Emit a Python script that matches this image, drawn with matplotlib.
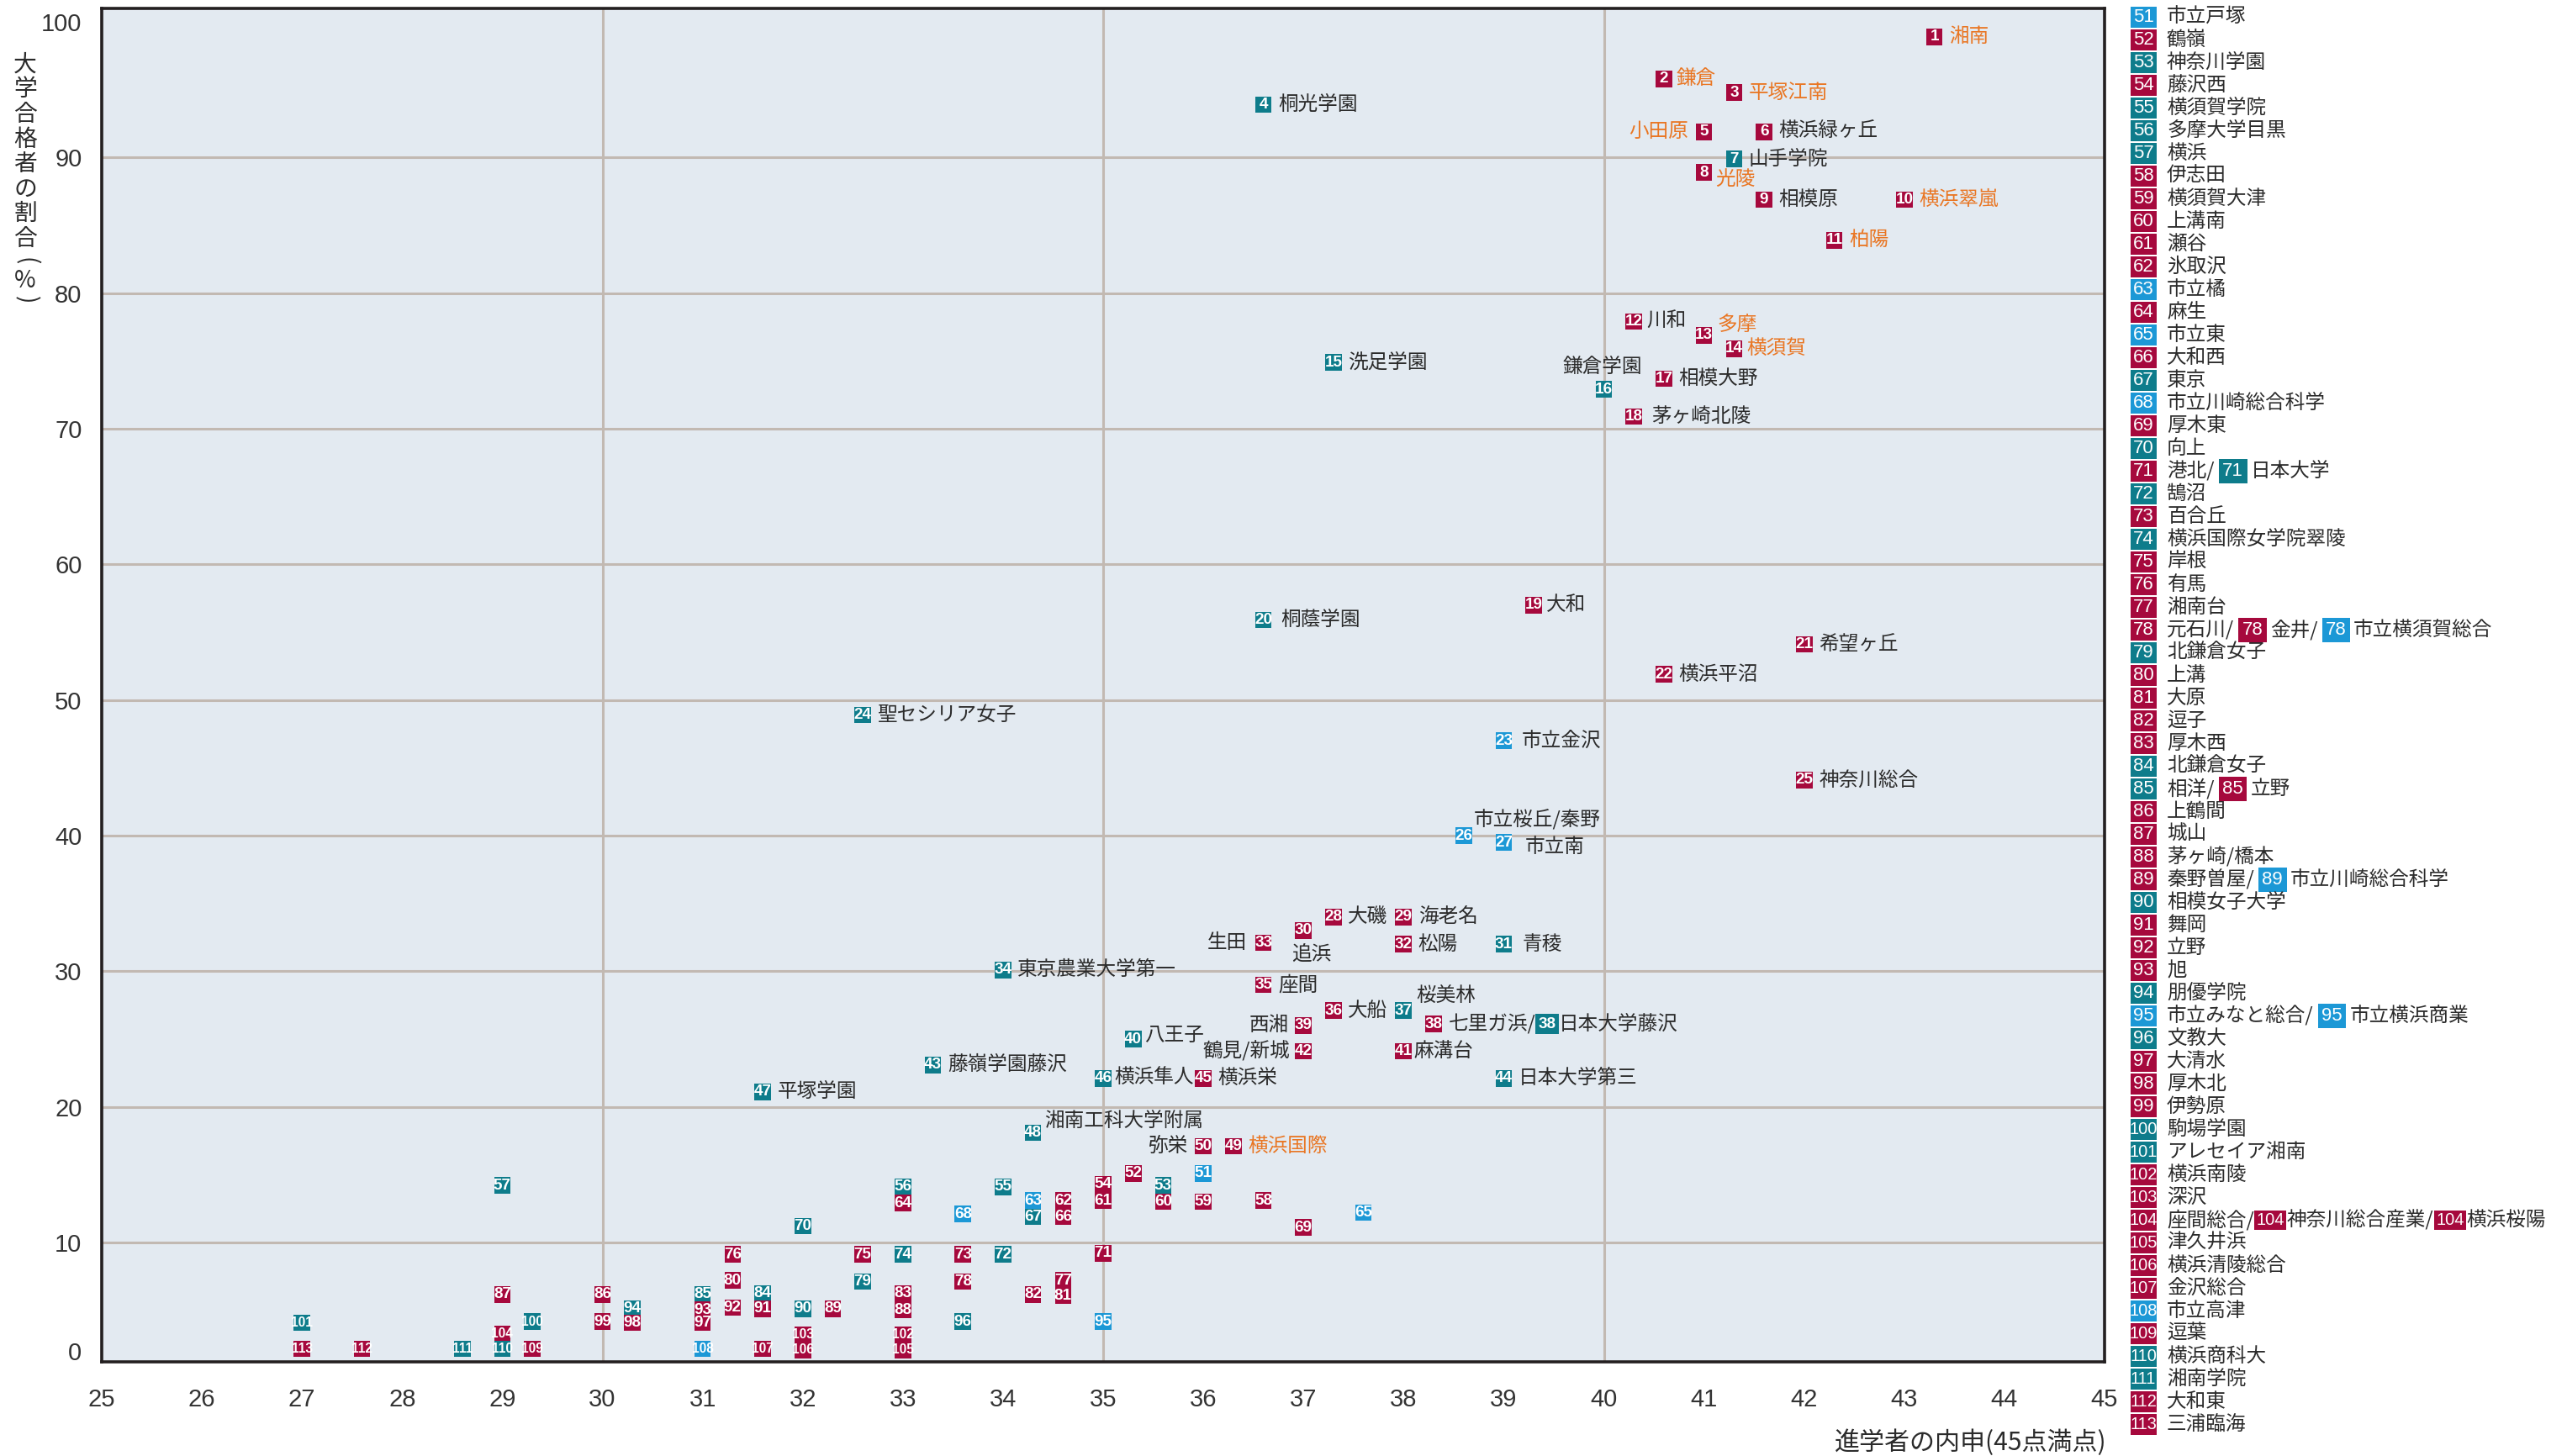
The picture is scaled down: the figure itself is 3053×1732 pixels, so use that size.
import numpy as np
import matplotlib
matplotlib.use("Agg")
import matplotlib.pyplot as plt
from matplotlib.patches import Rectangle

W, H, DPI = 3053, 1732, 200

# --- data: school number, 内申 (x), 大学合格者の割合 % (y), type k=県立 s=私立 i=市立
school_no = list(range(1, 114))
naishin = [43.3, 40.6, 41.3, 36.6, 41.0, 41.6, 41.3, 41.0, 41.6, 43.0,
           42.3, 40.3, 41.0, 41.3, 37.3, 40.0, 40.6, 40.3, 39.3, 36.6,
           42.0, 40.6, 39.0, 32.6, 42.0, 38.6, 39.0, 37.3, 38.0, 37.0,
           39.0, 38.0, 36.6, 34.0, 36.6, 37.3, 38.0, 38.3, 37.0, 35.3,
           38.0, 37.0, 33.3, 39.0, 36.0, 35.0, 31.6, 34.3, 36.3, 36.0,
           36.0, 35.3, 35.6, 35.0, 34.0, 33.0, 29.0, 36.6, 36.0, 35.6,
           35.0, 34.6, 34.3, 33.0, 37.6, 34.6, 34.3, 33.6, 37.0, 32.0,
           35.0, 34.0, 33.6, 33.0, 32.6, 31.3, 34.6, 33.6, 32.6, 31.3,
           34.6, 34.3, 33.0, 31.6, 31.0, 30.0, 29.0, 33.0, 32.3, 32.0,
           31.6, 31.3, 31.0, 30.3, 35.0, 33.6, 31.0, 30.3, 30.0, 29.3,
           27.0, 33.0, 32.0, 29.0, 33.0, 32.0, 31.6, 31.0, 29.3, 29.0,
           28.6, 27.6, 27.0]
goukaku = [98.9, 95.8, 94.8, 93.9, 91.9, 91.9, 89.9, 88.9, 86.9, 86.9,
           83.9, 77.9, 76.9, 75.9, 74.9, 72.9, 73.7, 70.9, 57.0, 55.9,
           54.1, 51.9, 47.0, 48.9, 44.1, 40.0, 39.5, 34.0, 34.0, 33.0,
           32.0, 32.0, 32.1, 30.1, 29.0, 27.1, 27.1, 26.1, 26.0, 25.0,
           24.1, 24.1, 23.1, 22.1, 22.1, 22.1, 21.1, 18.1, 17.1, 17.1,
           15.1, 15.1, 14.2, 14.3, 14.1, 14.1, 14.2, 13.1, 13.0, 13.0,
           13.1, 13.1, 13.1, 12.9, 12.2, 11.9, 11.9, 12.1, 11.1, 11.2,
           9.0, 8.9, 8.9, 8.9, 8.9, 8.9, 6.5, 6.4, 6.4, 6.5,
           5.1, 5.2, 5.3, 5.3, 5.2, 5.2, 5.2, 3.8, 3.9, 3.9,
           3.9, 4.0, 3.8, 3.9, 2.7, 2.7, 2.6, 2.6, 2.7, 2.7,
           2.6, 1.5, 1.5, 1.6, 0.1, 0.1, 0.2, 0.2, 0.2, 0.2,
           0.2, 0.2, 0.2]
kind = ("kkkskkskkk" "kkkksskkks" "kkiskiikkk" "skkskkskks" "kksskssskk"
        "ikskssskkk" "kkikiksiks" "kskskkkksk" "kkksskkkks" "kkksiskkks"
        "skkkkkkiksskk")

# names written next to points 1-50
label_names = ["湘南", "鎌倉", "平塚江南", "桐光学園", "小田原", "横浜緑ヶ丘", "山手学院", "光陵", "相模原", "横浜翠嵐",
               "柏陽", "川和", "多摩", "横須賀", "洗足学園", "鎌倉学園", "相模大野", "茅ヶ崎北陵", "大和", "桐蔭学園",
               "希望ヶ丘", "横浜平沼", "市立金沢", "聖セシリア女子", "神奈川総合", "市立桜丘/秦野", "市立南", "大磯", "海老名", "追浜",
               "青稜", "松陽", "生田", "東京農業大学第一", "座間", "大船", "桜美林", "七里ガ浜/", "西湘", "八王子",
               "麻溝台", "鶴見/新城", "藤嶺学園藤沢", "日本大学第三", "横浜栄", "横浜隼人", "平塚学園", "湘南工科大学附属", "横浜国際", "弥栄"]
orange_names = {1, 2, 3, 5, 8, 10, 11, 13, 14, 49}
inline_extra = {38: ("s", "日本大学藤沢")}

# list on the right for 51-113
legend_names = ["市立戸塚", "鶴嶺", "神奈川学園", "藤沢西", "横須賀学院", "多摩大学目黒", "横浜", "伊志田", "横須賀大津", "上溝南",
                "瀬谷", "氷取沢", "市立橘", "麻生", "市立東", "大和西", "東京", "市立川崎総合科学", "厚木東", "向上",
                "港北/", "鵠沼", "百合丘", "横浜国際女学院翠陵", "岸根", "有馬", "湘南台", "元石川/", "北鎌倉女子", "上溝",
                "大原", "逗子", "厚木西", "北鎌倉女子", "相洋/", "上鶴間", "城山", "茅ヶ崎/橋本", "秦野曽屋/", "相模女子大学",
                "舞岡", "立野", "旭", "朋優学院", "市立みなと総合/", "文教大", "大清水", "厚木北", "伊勢原", "駒場学園",
                "アレセイア湘南", "横浜南陵", "深沢", "座間総合/", "津久井浜", "横浜清陵総合", "金沢総合", "市立高津", "逗葉", "横浜商科大",
                "湘南学院", "大和東", "三浦臨海"]
legend_extra = {71: [("s", "日本大学")],
                78: [("k", "金井/"), ("i", "市立横須賀総合")],
                85: [("k", "立野")],
                89: [("i", "市立川崎総合科学")],
                95: [("i", "市立横浜商業")],
                104: [("k", "神奈川総合産業/"), ("k", "横浜桜陽")]}

# --- style
COL = {"k": "#A6093D", "s": "#0E7C8B", "i": "#1C98D6"}
ORANGE = "#E97623"
DARK = "#2B2B2B"
CJK = ["Noto Sans CJK JP", "DejaVu Sans"]
NUM = ["Liberation Sans Narrow", "Liberation Sans", "DejaVu Sans"]
SANS = ["Liberation Sans", "DejaVu Sans"]

# label offsets in points (dx, dy, ha); default is right of the box
label_pos = {5: (-6.6, 0, "right"), 8: (4.8, -2.9, "left"), 13: (5.6, 4.5, "left"),
             16: (-0.7, 9.6, "center"), 26: (4.3, 6.6, "left"), 27: (9.1, -1.8, "left"),
             30: (3.4, -10.2, "center"), 33: (-7.2, 0, "right"), 37: (5.3, 6.1, "left"),
             39: (-6.4, 0, "right"), 40: (4.8, 1.8, "left"), 41: (4.5, 0, "left"),
             42: (-5.8, 0, "right"), 46: (4.8, 0, "left"), 48: (5.0, 5.0, "left"),
             50: (-6.6, 0, "right"), 31: (8.0, 0, "left"), 18: (7.4, 0, "left"),
             23: (7.6, 0, "left"), 20: (7.3, 0, "left"), 12: (5.6, 0, "left"),
             19: (5.5, 0, "left"), 2: (5.3, 0, "left"), 14: (5.5, 0, "left")}


def fwd(y):
    y = np.asarray(y, dtype=float)
    return np.where(y >= 10, y, 10 - (10 - y) * 0.8)


def inv(f):
    f = np.asarray(f, dtype=float)
    return np.where(f >= 10, f, 10 - (10 - f) / 0.8)


fig = plt.figure(figsize=(W / DPI, H / DPI), dpi=DPI)
ax = fig.add_axes([121 / W, 1 - 1620 / H, (2503 - 121) / W, (1620 - 10) / H])
ax.set_facecolor("#E3EAF1")
ax.set_yscale("function", functions=(fwd, inv))
ax.set_xlim(25, 45)
ax.set_ylim(-1.0, 101.0)

for v in range(10, 100, 10):
    ax.axhline(v, color="#C2B9B2", lw=1.1, zorder=1)
for v in (30, 35, 40):
    ax.axvline(v, color="#C2B9B2", lw=1.1, zorder=1)
for s in ax.spines.values():
    s.set_color("#231F20")
    s.set_linewidth(1.3)
    s.set_zorder(5)

ax.set_xticks(range(25, 46))
ax.set_yticks(range(0, 101, 10))
ax.set_yticklabels([str(v) for v in range(0, 101, 10)])
ax.tick_params(length=0, labelsize=10.5, colors="#333333")
ax.tick_params(axis="x", pad=11)
ax.tick_params(axis="y", pad=8.5)
for lab in ax.get_xticklabels() + ax.get_yticklabels():
    lab.set_family(SANS)

# boxes
ax.scatter(naishin, goukaku, marker="s", s=50, c=[COL[k] for k in kind],
           linewidths=0, zorder=3)
for n, x, y in zip(school_no, naishin, goukaku):
    fs = 6.8 if n < 100 else 5.6
    ax.text(x, y, str(n), ha="center", va="center", color="white", fontsize=fs,
            family=NUM, fontweight="bold", zorder=4)

# names beside points
for n, x, y in zip(school_no, naishin, goukaku):
    if n > len(label_names):
        continue
    dx, dy, ha = label_pos.get(n, (6.3, 0, "left"))
    col = ORANGE if n in orange_names else DARK
    t = ax.annotate(label_names[n - 1], xy=(x, y), xytext=(dx, dy), textcoords="offset points",
                    ha=ha, va="center", fontsize=8.5, color=col, family=CJK, zorder=4)
    if n in inline_extra:
        k2, name2 = inline_extra[n]
        b = ax.annotate(str(n), xy=(1, 0.5), xycoords=t, xytext=(1.2, 0), textcoords="offset points",
                        ha="left", va="center", fontsize=6.8, color="white", family=NUM, fontweight="bold",
                        bbox=dict(boxstyle="square,pad=0.18", fc=COL[k2], ec="none"), zorder=4)
        ax.annotate(name2, xy=(1, 0.5), xycoords=b, xytext=(1.3, 0), textcoords="offset points",
                    ha="left", va="center", fontsize=8.5, color=DARK, family=CJK, zorder=4)

# axis titles (y title stacked vertically, brackets turned)
ylabel_chars = list("大学合格者の割合") + ["(", "%", ")"]
ylabel_y = [77, 106.5, 136, 165.5, 195, 224.5, 254, 283.5, 311, 334, 357]
for ch, py in zip(ylabel_chars, ylabel_y):
    fig.text(30 / W, 1 - py / H, ch, ha="center", va="center", fontsize=10, color=DARK,
             family=CJK, rotation=-90 if ch in "()" else 0)
fig.text(2506 / W, 1 - 1716 / H, "進学者の内申(45点満点)", ha="right", va="center",
         fontsize=10.8, color=DARK, family=CJK)

# list of schools 51-113
for i, name in enumerate(legend_names):
    n = 51 + i
    yc = 20.5 + 27.0 * i
    fig.add_artist(Rectangle((2533.5 / W, 1 - (yc + 12.2) / H), 31 / W, 24.4 / H,
                             transform=fig.transFigure, fc=COL[kind[n - 1]], ec="none"))
    fig.text(2549 / W, 1 - yc / H, str(n), ha="center", va="center", color="white",
             fontsize=8 if n < 100 else 7.2, family=SANS if n < 100 else NUM)
    prev = fig.text(2577 / W, 1 - yc / H, name, ha="left", va="center", fontsize=8.5,
                    color=DARK, family=CJK)
    wide = n >= 100
    for k2, name2 in legend_extra.get(n, []):
        b = ax.annotate(str(n), xy=(1, 0.5), xycoords=prev,
                        xytext=(1.0 if wide else 3.5, 0), textcoords="offset points",
                        ha="left", va="center", fontsize=7.2 if wide else 8, color="white",
                        family=NUM if wide else SANS,
                        bbox=dict(boxstyle="square,pad=0.12" if wide else "square,pad=0.2",
                                  fc=COL[k2], ec="none"),
                        annotation_clip=False)
        prev = ax.annotate(name2, xy=(1, 0.5), xycoords=b, xytext=(1.0 if wide else 3.0, 0),
                           textcoords="offset points", ha="left", va="center", fontsize=8.5,
                           color=DARK, family=CJK, annotation_clip=False)

fig.savefig("out.png", dpi=DPI)
